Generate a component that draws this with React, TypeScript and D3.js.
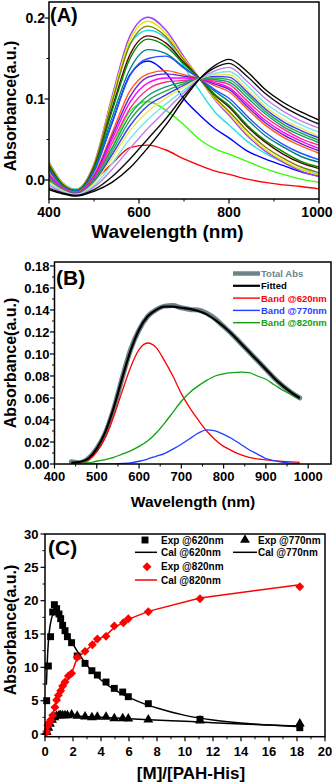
import React from "react";
import * as d3 from "d3";

const FONT = "'Liberation Sans', Arial, Helvetica, sans-serif";

// ---------- (A) titration spectra ----------
const wlA = [400, 430, 460, 500, 540, 580, 620, 660, 700, 735, 770, 800, 840, 880, 920, 960, 1000];

const aRed = [0.012, -0.006, -0.013, 0.0, 0.02, 0.04, 0.043, 0.037, 0.026, 0.018, 0.011, 0.007, 0.001, -0.003, -0.006, -0.008, -0.011];
const aGreen = [0.018, -0.005, -0.012, 0.005, 0.04, 0.085, 0.097, 0.086, 0.068, 0.05, 0.038, 0.032, 0.023, 0.014, 0.007, 0.001, -0.003];
const aBlue = [0.02, -0.004, -0.012, 0.012, 0.07, 0.13, 0.147, 0.132, 0.1, 0.08, 0.063, 0.052, 0.036, 0.026, 0.018, 0.01, 0.005];
const aCyan = [0.022, -0.003, -0.011, 0.018, 0.095, 0.168, 0.185, 0.175, 0.14, 0.11, 0.083, 0.068, 0.048, 0.033, 0.022, 0.013, 0.007];
const aViolet = [0.022, -0.004, -0.012, 0.02, 0.103, 0.178, 0.201, 0.185, 0.152, 0.125, 0.098, 0.08, 0.055, 0.036, 0.022, 0.011, 0.004];
const aYellow = [0.021, -0.004, -0.012, 0.019, 0.1, 0.173, 0.196, 0.181, 0.15, 0.125, 0.099, 0.082, 0.057, 0.038, 0.024, 0.013, 0.006];
const aOlive = [0.02, -0.005, -0.013, 0.018, 0.096, 0.167, 0.19, 0.177, 0.148, 0.125, 0.101, 0.085, 0.061, 0.041, 0.027, 0.016, 0.009];
const aWine = [0.017, -0.006, -0.013, 0.015, 0.088, 0.155, 0.178, 0.169, 0.145, 0.125, 0.104, 0.09, 0.066, 0.047, 0.032, 0.021, 0.014];
const aDkGreen = [0.016, -0.006, -0.013, 0.014, 0.085, 0.15, 0.174, 0.165, 0.143, 0.125, 0.105, 0.092, 0.068, 0.049, 0.035, 0.023, 0.016];
const aDkCyan = [0.014, -0.007, -0.014, 0.012, 0.077, 0.137, 0.161, 0.156, 0.139, 0.125, 0.109, 0.097, 0.075, 0.055, 0.041, 0.029, 0.022];
const aRoyal = [0.012, -0.008, -0.014, 0.01, 0.071, 0.129, 0.15, 0.153, 0.138, 0.125, 0.111, 0.101, 0.079, 0.059, 0.044, 0.033, 0.025];
const aOrange = [0.008, -0.009, -0.015, 0.006, 0.058, 0.11, 0.131, 0.135, 0.13, 0.125, 0.116, 0.109, 0.088, 0.068, 0.053, 0.042, 0.033];
const aIndigo = [0.006, -0.01, -0.016, 0.004, 0.054, 0.103, 0.127, 0.131, 0.128, 0.125, 0.118, 0.112, 0.091, 0.071, 0.056, 0.045, 0.036];
const aMagenta = [0.005, -0.01, -0.016, 0.003, 0.05, 0.096, 0.12, 0.126, 0.126, 0.125, 0.12, 0.114, 0.094, 0.074, 0.059, 0.048, 0.039];
const aPink = [0.003, -0.011, -0.016, 0.001, 0.045, 0.088, 0.112, 0.121, 0.123, 0.125, 0.122, 0.118, 0.098, 0.078, 0.063, 0.051, 0.043];
const aTeal = [0.002, -0.012, -0.017, 0.0, 0.039, 0.08, 0.104, 0.115, 0.121, 0.125, 0.124, 0.121, 0.102, 0.082, 0.066, 0.055, 0.046];
const aGreen2 = [0.0, -0.012, -0.017, -0.002, 0.035, 0.074, 0.098, 0.11, 0.119, 0.125, 0.126, 0.124, 0.106, 0.085, 0.069, 0.058, 0.049];
const aBlue2 = [-0.001, -0.013, -0.017, -0.003, 0.031, 0.067, 0.092, 0.105, 0.117, 0.125, 0.128, 0.127, 0.109, 0.088, 0.072, 0.061, 0.052];
const aLtYellow = [-0.002, -0.013, -0.018, -0.004, 0.027, 0.061, 0.085, 0.101, 0.115, 0.125, 0.13, 0.13, 0.112, 0.091, 0.075, 0.064, 0.054];
const aLtCyan = [-0.005, -0.014, -0.018, -0.007, 0.02, 0.051, 0.075, 0.094, 0.111, 0.125, 0.132, 0.134, 0.117, 0.095, 0.08, 0.068, 0.059];
const aLtViolet = [-0.007, -0.015, -0.019, -0.009, 0.013, 0.039, 0.064, 0.086, 0.108, 0.125, 0.135, 0.139, 0.122, 0.101, 0.085, 0.073, 0.064];
const aBlack2 = [-0.01, -0.016, -0.019, -0.012, 0.004, 0.026, 0.051, 0.076, 0.104, 0.125, 0.139, 0.144, 0.128, 0.107, 0.091, 0.079, 0.069];
const aBlack1 = [-0.012, -0.017, -0.02, -0.014, -0.003, 0.015, 0.04, 0.068, 0.1, 0.125, 0.142, 0.149, 0.134, 0.112, 0.096, 0.084, 0.074];

const seriesA = [
  { c: "#ff0000", v: aRed },
  { c: "#33ff00", v: aGreen },
  { c: "#0000ff", v: aBlue },
  { c: "#22e0e0", v: aCyan },
  { c: "#a03cff", v: aViolet },
  { c: "#e6e600", v: aYellow },
  { c: "#7f7f00", v: aOlive },
  { c: "#5a0000", v: aWine },
  { c: "#008a00", v: aDkGreen },
  { c: "#008080", v: aDkCyan },
  { c: "#2255ff", v: aRoyal },
  { c: "#ff5a1e", v: aOrange },
  { c: "#6a1fd0", v: aIndigo },
  { c: "#ff00ff", v: aMagenta },
  { c: "#ff2a8a", v: aPink },
  { c: "#1a9a70", v: aTeal },
  { c: "#2aa84a", v: aGreen2 },
  { c: "#3a3af0", v: aBlue2 },
  { c: "#e8e85a", v: aLtYellow },
  { c: "#70e8e0", v: aLtCyan },
  { c: "#c27cf0", v: aLtViolet },
  { c: "#111111", v: aBlack2 },
  { c: "#000000", v: aBlack1 },
];

// ---------- (B) band deconvolution ----------
const wlB = [440, 460, 480, 500, 520, 540, 560, 580, 600, 620, 640, 660, 680, 700, 720, 740, 760, 780, 800, 820, 840, 860, 880, 900, 920, 940, 960, 980];
const bTotal = [0.002, 0.001, 0.005, 0.014, 0.028, 0.05, 0.078, 0.104, 0.122, 0.134, 0.14, 0.1435, 0.144, 0.142, 0.1405, 0.14, 0.137, 0.132, 0.125, 0.118, 0.11, 0.102, 0.094, 0.086, 0.078, 0.071, 0.065, 0.06];
const bFitted = [0.001, 0.002, 0.005, 0.014, 0.029, 0.051, 0.078, 0.103, 0.122, 0.134, 0.14, 0.143, 0.143, 0.142, 0.141, 0.139, 0.136, 0.131, 0.125, 0.118, 0.11, 0.102, 0.094, 0.086, 0.078, 0.071, 0.065, 0.06];
const b620 = [0.0005, 0.0015, 0.004, 0.011, 0.024, 0.043, 0.066, 0.088, 0.104, 0.11, 0.106, 0.094, 0.08, 0.064, 0.051, 0.04, 0.03, 0.022, 0.016, 0.012, 0.0085, 0.006, 0.0047, 0.0037, 0.003, 0.0024, 0.002, 0.0015];
const b770 = [0, 0, 0, 0, 0, 0.0002, 0.0005, 0.001, 0.0025, 0.0045, 0.007, 0.0095, 0.0135, 0.018, 0.023, 0.028, 0.031, 0.03, 0.027, 0.023, 0.018, 0.013, 0.009, 0.005, 0.003, 0.0015, 0.0008, 0.0004];
const b820 = [0.0003, 0.0006, 0.001, 0.0025, 0.004, 0.006, 0.009, 0.012, 0.016, 0.021, 0.028, 0.037, 0.047, 0.057, 0.065, 0.071, 0.076, 0.08, 0.082, 0.083, 0.0835, 0.083, 0.08, 0.077, 0.072, 0.067, 0.063, 0.059];

const legendB = ["Total Abs", "Fitted", "Band @620nm", "Band @770nm", "Band @820nm"];
const colorsB = ["#6f8489", "#000000", "#ff0000", "#1f3fff", "#10a010"];

// ---------- (C) titration curves ----------
const x620 = [0.12, 0.24, 0.4, 0.55, 0.67, 0.83, 1.0, 1.12, 1.26, 1.43, 1.6, 1.9, 2.3, 2.86, 3.35, 3.74, 4.36, 4.95, 5.55, 5.95, 7.38, 11.07, 18.2];
const y620 = [5.0, 10.2, 14.6, 18.3, 19.4, 18.8, 18.0, 17.3, 16.3, 15.5, 14.6, 13.7, 11.7, 10.6, 9.5, 8.85, 7.8, 6.85, 6.3, 5.6, 4.55, 2.2, 0.95];
const xCal620 = [0.1, 0.2, 0.3, 0.45, 0.6, 0.75, 0.9, 1.2, 1.6, 2.0, 2.5, 3.0, 3.5, 4.0, 5.0, 6.0, 7.0, 8.0, 10.0, 12.0, 14.0, 16.0, 18.2];
const yCal620 = [7.4, 12.5, 15.2, 17.2, 17.9, 18.0, 17.8, 16.9, 15.1, 13.5, 11.8, 10.3, 9.1, 8.1, 6.6, 5.5, 4.6, 3.9, 2.8, 2.1, 1.65, 1.35, 1.1];
const x770 = [0.12, 0.24, 0.36, 0.5, 0.67, 0.83, 1.0, 1.12, 1.26, 1.43, 1.6, 1.9, 2.3, 2.86, 3.35, 3.74, 4.36, 4.95, 5.55, 5.95, 7.38, 11.07, 18.2];
const y770 = [0.3, 0.9, 1.5, 2.1, 2.5, 2.7, 2.8, 2.8, 2.8, 2.8, 2.8, 2.9, 2.7, 2.6, 2.5, 2.55, 2.55, 2.35, 2.35, 2.3, 2.15, 2.0, 1.55];
const xCal770 = [0, 0.2, 0.4, 0.6, 0.8, 1.0, 1.5, 2.0, 3.0, 4.0, 5.0, 6.0, 7.4, 10, 12, 14, 16, 18.2];
const yCal770 = [0, 1.0, 1.8, 2.3, 2.6, 2.7, 2.75, 2.7, 2.6, 2.5, 2.4, 2.3, 2.15, 1.9, 1.7, 1.5, 1.35, 1.2];
const x820 = [0.12, 0.2, 0.3, 0.4, 0.55, 0.71, 0.83, 0.95, 1.12, 1.26, 1.43, 1.67, 1.9, 2.3, 2.86, 3.38, 3.74, 4.36, 4.95, 5.6, 5.95, 7.38, 11.07, 18.2];
const y820 = [0.3, 1.3, 1.7, 2.1, 2.8, 4.0, 5.1, 5.8, 6.5, 7.2, 7.8, 8.7, 9.1, 11.5, 12.4, 13.4, 14.25, 14.65, 16.2, 16.7, 17.3, 18.35, 20.3, 22.1];
const xCal820 = [0, 0.3, 0.6, 0.9, 1.2, 1.5, 1.9, 2.3, 2.86, 3.38, 3.74, 4.36, 4.95, 5.6, 5.95, 7.38, 11.07, 18.2];
const yCal820 = [0, 1.5, 3.3, 5.5, 6.8, 7.8, 9.1, 11.4, 12.4, 13.4, 14.2, 14.8, 16.0, 16.7, 17.2, 18.4, 20.4, 22.4];

// scales
const xA = d3.scaleLinear().domain([400, 1000]).range([49, 319]);
const yA = d3.scaleLinear().domain([-0.0235, 0.2198]).range([199, 2]);
const xB = d3.scaleLinear().domain([400, 1054]).range([54.5, 331]);
const yB = d3.scaleLinear().domain([0, 0.1836]).range([464, 262]);
const xC = d3.scaleLinear().domain([0, 20]).range([45, 325]);
const yC = d3.scaleLinear().domain([-0.4, 30]).range([736.7, 534]);

function Frame({ x, y, xTicks, xMinor, yTicks, yMinor, xFmt, yFmt, fs, xOff, yGap }) {
  const [x0, x1] = x.range();
  const [y0, y1] = y.range();
  return (
    <g fontFamily={FONT} fontWeight="bold" fontSize={fs} fill="#000">
      <rect x={x0} y={y1} width={x1 - x0} height={y0 - y1} fill="none" stroke="#000" strokeWidth={1.5} />
      {xTicks.map(t => (
        <line key={"xt" + t} x1={x(t)} x2={x(t)} y1={y0} y2={y0 + 4.5} stroke="#000" strokeWidth={1.2} />
      ))}
      {xMinor.map(t => (
        <line key={"xm" + t} x1={x(t)} x2={x(t)} y1={y0} y2={y0 + 2.5} stroke="#000" strokeWidth={1} />
      ))}
      {yTicks.map(t => (
        <line key={"yt" + t} x1={x0 - 4.5} x2={x0} y1={y(t)} y2={y(t)} stroke="#000" strokeWidth={1.2} />
      ))}
      {yMinor.map(t => (
        <line key={"ym" + t} x1={x0 - 2.5} x2={x0} y1={y(t)} y2={y(t)} stroke="#000" strokeWidth={1} />
      ))}
      {xTicks.map(t => {
        const label = xFmt(t);
        // keep the last label inside the 333px page
        const half = (fs * 0.556 * label.length) / 2;
        return (
          <text key={"xl" + t} x={Math.min(x(t), 332.5 - half)} y={y0 + xOff} textAnchor="middle">{label}</text>
        );
      })}
      {yTicks.map(t => (
        <text key={"yl" + t} x={x0 - yGap} y={y(t) + fs * 0.35} textAnchor="end">{yFmt(t)}</text>
      ))}
    </g>
  );
}

function YTitle({ cy }) {
  return (
    <text transform={`translate(15.5,${cy}) rotate(-90)`} textAnchor="middle" fontFamily={FONT} fontWeight="bold" fontSize={16}>
      Absorbance(a.u.)
    </text>
  );
}

export default function App() {
  const lineA = d3.line<number>().x((_, i) => xA(wlA[i])).y(d => yA(d)).curve(d3.curveMonotoneX);
  const lineB = d3.line<number>().x((_, i) => xB(wlB[i])).y(d => yB(d)).curve(d3.curveMonotoneX);
  const lineC = (xs: number[], ys: number[], curve: any) =>
    d3.line<number>().x((_, i) => xC(xs[i])).y(d => yC(d)).curve(curve)(ys);
  const sq = d3.symbol(d3.symbolSquare, 48)();
  const tri = d3.symbol(d3.symbolTriangle, 42)();
  const dia = d3.symbol(d3.symbolSquare, 40)();

  return (
    <svg width={333} height={783} style={{ position: "absolute", left: 0, top: 0, background: "#fff" }}>
      <defs>
        <clipPath id="clipA"><rect x={49} y={2} width={270} height={197} /></clipPath>
        <clipPath id="clipB"><rect x={54.5} y={262} width={276.5} height={202} /></clipPath>
      </defs>

      {/* Panel A */}
      <g clipPath="url(#clipA)">
        {seriesA.map((s, i) => (
          <path key={i} d={lineA(s.v)} fill="none" stroke={s.c} strokeWidth={1.4} />
        ))}
      </g>
      <Frame x={xA} y={yA} xTicks={[400, 600, 800, 1000]} xMinor={[500, 700, 900]}
        yTicks={[0, 0.1, 0.2]} yMinor={[0.05, 0.15]} xFmt={d3.format("d")} yFmt={d3.format(".1f")}
        fs={14} xOff={18} yGap={4} />
      <text x={50} y={22} fontFamily={FONT} fontWeight="bold" fontSize={20}>(A)</text>
      <YTitle cy={106} />
      <text x={167.5} y={238} textAnchor="middle" fontFamily={FONT} fontWeight="bold" fontSize={19}>Wavelength (nm)</text>

      {/* Panel B */}
      <g clipPath="url(#clipB)">
        <path d={lineB(bTotal)} fill="none" stroke={colorsB[0]} strokeWidth={5} strokeLinecap="round" />
        <path d={lineB(bTotal)} fill="none" stroke="#566a70" strokeWidth={1.5} strokeDasharray="1 2.5" />
        <path d={lineB(b620)} fill="none" stroke={colorsB[2]} strokeWidth={1.3} />
        <path d={lineB(b770)} fill="none" stroke={colorsB[3]} strokeWidth={1.3} />
        <path d={lineB(b820)} fill="none" stroke={colorsB[4]} strokeWidth={1.3} />
        <path d={lineB(bFitted)} fill="none" stroke={colorsB[1]} strokeWidth={2.2} />
      </g>
      <Frame x={xB} y={yB} xTicks={d3.range(400, 1001, 100)} xMinor={d3.range(450, 1001, 100)}
        yTicks={d3.range(0, 0.181, 0.02)} yMinor={d3.range(0.01, 0.18, 0.02)} xFmt={d3.format("d")} yFmt={d3.format(".2f")}
        fs={13} xOff={16.5} yGap={5} />
      <text x={56} y={285} fontFamily={FONT} fontWeight="bold" fontSize={21}>(B)</text>
      <g fontFamily={FONT} fontWeight="bold" fontSize={9.5}>
        {legendB.map((name, i) => {
          const cy = 273.5 + i * 12.3;
          return (
            <g key={name}>
              <line x1={233} x2={260} y1={cy} y2={cy} stroke={colorsB[i]} strokeWidth={i === 0 ? 4.5 : i === 1 ? 2.2 : 1.4} />
              <text x={261} y={cy + 3.4} fill={colorsB[i]}>{name}</text>
            </g>
          );
        })}
      </g>
      <YTitle cy={363} />
      <text x={193} y={507} textAnchor="middle" fontFamily={FONT} fontWeight="bold" fontSize={15.5}>Wavelength (nm)</text>

      {/* Panel C */}
      <path d={lineC(xCal620, yCal620, d3.curveMonotoneX)} fill="none" stroke="#000" strokeWidth={1.5} />
      <path d={lineC(xCal770, yCal770, d3.curveMonotoneX)} fill="none" stroke="#000" strokeWidth={1.5} />
      <path d={lineC(xCal820, yCal820, d3.curveLinear)} fill="none" stroke="#ff0000" strokeWidth={1.5} />
      {x620.map((v, i) => (
        <path key={"s" + i} d={sq} transform={`translate(${xC(v)},${yC(y620[i])})`} fill="#000" />
      ))}
      {x770.map((v, i) => (
        <path key={"t" + i} d={tri} transform={`translate(${xC(v)},${yC(y770[i])})`} fill="#000" />
      ))}
      {x820.map((v, i) => (
        <path key={"d" + i} d={dia} transform={`translate(${xC(v)},${yC(y820[i])}) rotate(45)`} fill="#ff0000" />
      ))}
      <Frame x={xC} y={yC} xTicks={d3.range(0, 21, 2)} xMinor={d3.range(1, 20, 2)}
        yTicks={d3.range(0, 31, 5)} yMinor={d3.range(2.5, 30, 5)} xFmt={d3.format("d")} yFmt={d3.format("d")}
        fs={13} xOff={19} yGap={6.5} />
      <text x={48} y={555} fontFamily={FONT} fontWeight="bold" fontSize={21}>(C)</text>
      <g fontFamily={FONT} fontWeight="bold" fontSize={10} style={{ whiteSpace: "pre" }}>
        <path d={sq} transform="translate(145,540)" fill="#000" />
        <text x={161} y={543.5}>Exp @620nm</text>
        <line x1={135} x2={157} y1={552.3} y2={552.3} stroke="#000" strokeWidth={1.5} />
        <text x={161} y={555.8}>Cal  @620nm</text>
        <path d={tri} transform="translate(245,540)" fill="#000" />
        <text x={258} y={543.5}>Exp @770nm</text>
        <line x1={233} x2={257} y1={552.3} y2={552.3} stroke="#000" strokeWidth={1.5} />
        <text x={258} y={555.8}>Cal  @770nm</text>
        <path d={dia} transform="translate(147,566.7) rotate(45)" fill="#ff0000" />
        <text x={161} y={570.2}>Exp @820nm</text>
        <line x1={135} x2={157} y1={580} y2={580} stroke="#ff0000" strokeWidth={1.5} />
        <text x={161} y={583.5}>Cal  @820nm</text>
      </g>
      <YTitle cy={630} />
      <text x={191} y={779} textAnchor="middle" fontFamily={FONT} fontWeight="bold" fontSize={17}>[M]/[PAH-His]</text>
    </svg>
  );
}
